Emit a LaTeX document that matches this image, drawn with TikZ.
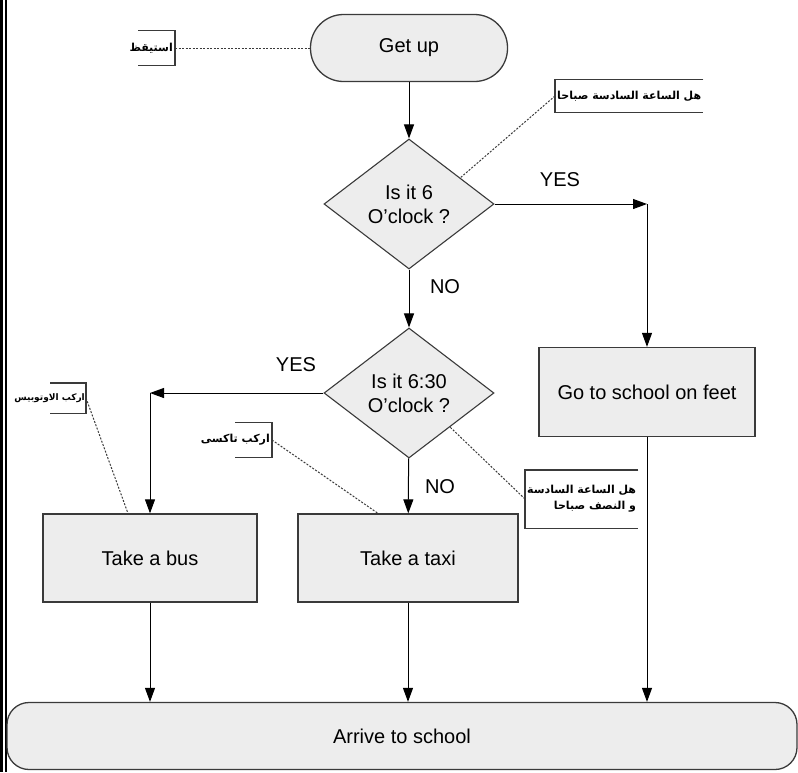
\documentclass[tikz,border=0pt]{standalone}
\usepackage{fontspec}
\setmainfont{Liberation Sans}
\newfontfamily\arabicfont[Script=Arabic]{DejaVu Sans}
\TeXXeTstate=1
\usetikzlibrary{shapes.geometric,arrows.meta,calc}
\definecolor{boxfill}{HTML}{EDEDED}
\definecolor{edgegray}{HTML}{3A3A3A}

\begin{document}
\begin{tikzpicture}[x=1pt,y=-1pt,
  every node/.style={font=\fontsize{20}{24}\selectfont},
  terminal/.style={draw=edgegray,fill=boxfill,line width=1.3pt,rounded corners=#1,inner sep=0pt},
  process/.style={draw=edgegray,fill=boxfill,line width=1.3pt,minimum width=216pt,minimum height=89pt,inner sep=0pt},
  decision/.style={diamond,draw=edgegray,fill=boxfill,line width=1.1pt,minimum width=170pt,minimum height=130pt,inner sep=0pt,align=center},
  flow/.style={draw=black,line width=1pt,-{Triangle[length=14pt,width=10pt]}},
  note/.style={font=\arabicfont\bfseries\fontsize{#1}{16}\selectfont,inner sep=2pt,align=right},
  note/.default=11,
  noteline/.style={draw=edgegray,line width=1pt,dash pattern=on 2pt off 1.5pt},
  bracket/.style={draw=edgegray,line width=1.4pt}]

	\useasboundingbox (0,0) rectangle (798,772);

	% double rule on the left edge
	\fill (0,0) rectangle (2.5,772);
	\fill (4.5,0) rectangle (7,772);

	% flow chart
	\node[terminal=33pt,minimum width=197pt,minimum height=67pt] (getup) at (409,48) {Get up};
	\node[decision] (d1) at (409,204) {Is it 6\\O’clock ?};
	\node[decision] (d2) at (409,393) {Is it 6:30\\O’clock ?};
	\node[process] (go) at (647,392) {Go to school on feet};
	\node[process,minimum width=214pt,minimum height=88pt] (bus) at (150,558) {Take a bus};
	\node[process,minimum width=220pt,minimum height=88pt] (taxi) at (408,558) {Take a taxi};
	\node[terminal=22pt,minimum width=790pt,minimum height=67pt] (arrive) at (402,736) {Arrive to school};

	\node (yesA) at (560,180) {YES};
	\node (noA) at (445,287) {NO};
	\node (yesB) at (296,365) {YES};
	\node (noB) at (440,487) {NO};

	\coordinate (turnA) at (go.north |- d1.east);
	\coordinate (turnB) at (bus.north |- d2.west);

	\draw[flow] (getup) -- (d1);
	\draw[flow] (d1.east) -- (turnA);
	\draw[flow] (turnA) -- (go);
	\draw[flow] (d1) -- (d2);
	\draw[flow] (d2.west) -- (turnB);
	\draw[flow] (turnB) -- (bus);
	\draw[flow] (d2) -- (taxi);
	\draw[flow] (bus) -- (bus |- arrive.north);
	\draw[flow] (taxi) -- (taxi |- arrive.north);
	\draw[flow] (go) -- (go |- arrive.north);

	% arabic notes
	\node[note,anchor=east,minimum height=35pt] (wakeNote) at (175,48) {\beginR استيقظ\endR};
	\draw[bracket] ([xshift=-37pt]wakeNote.north east) -- (wakeNote.north east) -- (wakeNote.south east) -- ++(-37,0);
	\draw[noteline] (wakeNote.east) -- (getup.west);

	\node[note,anchor=west,minimum height=33pt] (sixNote) at (555,96) {\beginR هل الساعة السادسة صباحا\endR};
	\draw[bracket] (sixNote.north east) -- (sixNote.north west) -- (sixNote.south west) -- (sixNote.south east);
	\draw[noteline] (sixNote.west) -- ($(d1.north)!0.6!(d1.east)$);

	\node[note=9,anchor=east,minimum height=30pt,inner sep=1pt] (busNote) at (86,398) {\beginR اركب الاوتوبيس\endR};
	\draw[bracket] ([xshift=-36pt]busNote.north east) -- (busNote.north east) -- (busNote.south east) -- ++(-36,0);
	\draw[noteline] (busNote.east) -- ([xshift=-22pt]bus.north);

	\node[note,anchor=east,minimum height=35pt] (taxiNote) at (272,440) {\beginR اركب تاكسى\endR};
	\draw[bracket] ([xshift=-37pt]taxiNote.north east) -- (taxiNote.north east) -- (taxiNote.south east) -- ++(-37,0);
	\draw[noteline] (taxiNote.east) -- ([xshift=-30pt]taxi.north);

	\node[note,anchor=west,minimum height=58pt] (halfNote) at (525,499) {\beginR هل الساعة السادسة\endR\\\beginR و النصف صباحا\endR};
	\draw[bracket] (halfNote.north east) -- (halfNote.north west) -- (halfNote.south west) -- (halfNote.south east);
	\draw[noteline] (halfNote.west) -- ($(d2.east)!0.52!(d2.south)$);

\end{tikzpicture}
\end{document}
